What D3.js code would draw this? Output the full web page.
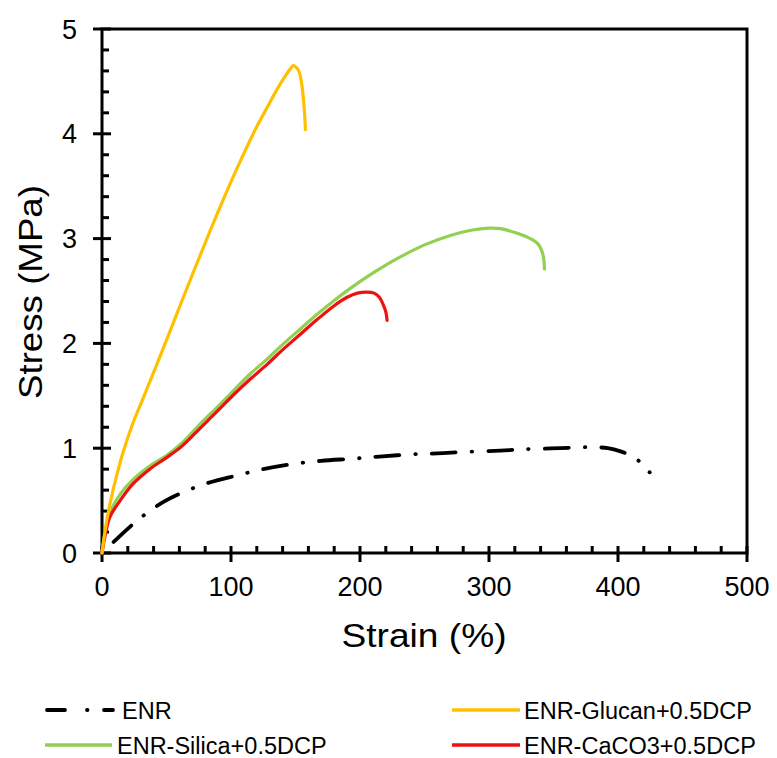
<!DOCTYPE html>
<html><head><meta charset="utf-8">
<script src="https://cdn.jsdelivr.net/npm/d3@7"></script>
<style>body{margin:0;background:#fff}svg{display:block}text{font-family:"Liberation Sans",Arial,sans-serif;fill:#000}</style>
</head><body>
<script>
const xTicks = [0,100,200,300,400,500];
const yTicks = [0,1,2,3,4,5];
const seriesNames = ["ENR","ENR-Glucan+0.5DCP","ENR-Silica+0.5DCP","ENR-CaCO3+0.5DCP"];
const enr = [[0,0],[12,0.14],[24.4,0.28],[34.7,0.38],[48,0.49],[63,0.58],[80,0.66],[104.6,0.74],[125,0.8],[148.6,0.85],[170,0.88],[195,0.9],[215,0.92],[237.8,0.94],[260,0.95],[283,0.965],[309,0.977],[327,0.99],[348,0.998],[365,1.005],[380,1.01],[392,1.0],[402,0.97],[410,0.93],[416,0.88],[421,0.82],[424.5,0.77]];
const glucan = [[0,0],[2,0.18],[4,0.33],[6.7,0.5],[11.4,0.74],[16.6,0.97],[24,1.24],[32,1.48],[48,1.97],[65,2.5],[82,3.02],[95,3.4],[108,3.76],[120,4.07],[128,4.25],[135,4.41],[142,4.55],[146,4.62],[148,4.65],[150,4.64],[152.5,4.6],[154.5,4.5],[156,4.35],[157,4.2],[157.7,4.04]];
const silica = [[0,0],[2,0.17],[6,0.38],[14,0.56],[24,0.7],[37,0.83],[50,0.93],[62,1.05],[76,1.23],[90,1.4],[102,1.55],[115,1.71],[128,1.85],[141,2.0],[154,2.14],[167,2.28],[180,2.41],[193,2.53],[206,2.64],[219,2.74],[232,2.83],[250,2.94],[270,3.03],[286,3.08],[300,3.1],[309,3.095],[322,3.05],[332,3.0],[338,2.95],[341,2.88],[342.5,2.8],[343,2.71]];
const caco3 = [[0,0],[2,0.14],[6,0.34],[14,0.5],[24,0.66],[37,0.8],[50,0.91],[62,1.02],[76,1.19],[90,1.36],[102,1.51],[115,1.66],[128,1.8],[141,1.95],[154,2.09],[167,2.23],[180,2.36],[190,2.44],[198,2.48],[205,2.49],[211,2.48],[215,2.44],[218,2.37],[220,2.3],[221,2.22]];
const colors = ["#000000","#FFC000","#92D050","#EE1111"];

const W=777,H=758;
const svg=d3.select("body").append("svg").attr("width",W).attr("height",H);
const x=d3.scaleLinear().domain([0,500]).range([102,747]);
const y=d3.scaleLinear().domain([0,5]).range([553,29]);

const xMinor=d3.range(0,501,20).filter(v=>v%100!==0);
const yMinor=d3.range(0,26,1).map(v=>v/5).filter(v=>Math.abs(v-Math.round(v))>1e-6);
const g=svg.append("g");
g.selectAll(".xm").data(xMinor).join("line").attr("x1",d=>x(d)).attr("x2",d=>x(d)).attr("y1",y(0)).attr("y2",y(0)-7).attr("stroke","#000").attr("stroke-width",3);
g.selectAll(".ym").data(yMinor).join("line").attr("y1",d=>y(d)).attr("y2",d=>y(d)).attr("x1",x(0)).attr("x2",x(0)+7).attr("stroke","#000").attr("stroke-width",3);
g.selectAll(".xM").data(xTicks).join("line").attr("x1",d=>x(d)).attr("x2",d=>x(d)).attr("y1",y(0)-7).attr("y2",y(0)+9).attr("stroke","#000").attr("stroke-width",3);
g.selectAll(".yM").data(yTicks).join("line").attr("y1",d=>y(d)).attr("y2",d=>y(d)).attr("x1",x(0)-9).attr("x2",x(0)+9).attr("stroke","#000").attr("stroke-width",3);
g.append("rect").attr("x",x(0)).attr("y",y(5)).attr("width",x(500)-x(0)).attr("height",y(0)-y(5)).attr("fill","none").attr("stroke","#000").attr("stroke-width",3);

g.selectAll(".xl").data(xTicks).join("text").attr("x",d=>x(d)).attr("y",596).attr("text-anchor","middle").attr("font-size",27).text(d=>d);
g.selectAll(".yl").data(yTicks).join("text").attr("x",77).attr("y",d=>y(d)+9.5).attr("text-anchor","end").attr("font-size",27).text(d=>d);

svg.append("text").attr("x",424).attr("y",647).attr("text-anchor","middle").attr("font-size",33)
  .attr("textLength",165).attr("lengthAdjust","spacingAndGlyphs").text("Strain (%)");
svg.append("text").attr("transform","translate(42,292) rotate(-90)").attr("text-anchor","middle").attr("font-size",33)
  .attr("textLength",214).attr("lengthAdjust","spacingAndGlyphs").text("Stress (MPa)");

const lineC=d3.line().x(d=>x(d[0])).y(d=>y(d[1])).curve(d3.curveCatmullRom.alpha(0.5));
const data=[enr,glucan,silica,caco3];
[2,3,1].forEach(i=>{
  svg.append("path").attr("d",lineC(data[i])).attr("fill","none").attr("stroke",colors[i]).attr("stroke-width",3.2).attr("stroke-linejoin","round").attr("stroke-linecap","round");
});
const enrPath=svg.append("path").attr("d",lineC(enr)).attr("fill","none").attr("stroke","#000").attr("stroke-width",3.8).attr("stroke-dasharray","24,16,0.5,16").attr("stroke-linecap","round");
(function(){
  const node=enrPath.node(), L=node.getTotalLength(), tx=x(405);
  let lo=0,hi=L;
  for(let k=0;k<40;k++){const m=(lo+hi)/2; if(node.getPointAtLength(m).x<tx) lo=m; else hi=m;}
  const period=56.5; let o=((24-lo)%period+period)%period;
  enrPath.attr("stroke-dashoffset",o);
})();
const last=enr[enr.length-1];
svg.append("circle").attr("cx",x(last[0])).attr("cy",y(last[1])).attr("r",2).attr("fill","#000");

const leg=[{i:0,x1:47,x2:113,ty:710,tx:122},{i:1,x1:452,x2:520,ty:710,tx:524},{i:2,x1:45,x2:112,ty:745,tx:117},{i:3,x1:452,x2:520,ty:745,tx:524}];
leg.forEach(l=>{
  const ln=svg.append("line").attr("x1",l.x1).attr("x2",l.x2).attr("y1",l.ty).attr("y2",l.ty).attr("stroke",colors[l.i]).attr("stroke-width",l.i===0?3.8:3.6);
  if(l.i===0) ln.attr("stroke-dasharray","18,22,0.5,16.5,9,50").attr("stroke-linecap","round");
  svg.append("text").attr("x",l.tx).attr("y",l.ty+8.5).attr("font-size",23.5).text(seriesNames[l.i]);
});
</script>
</body></html>
